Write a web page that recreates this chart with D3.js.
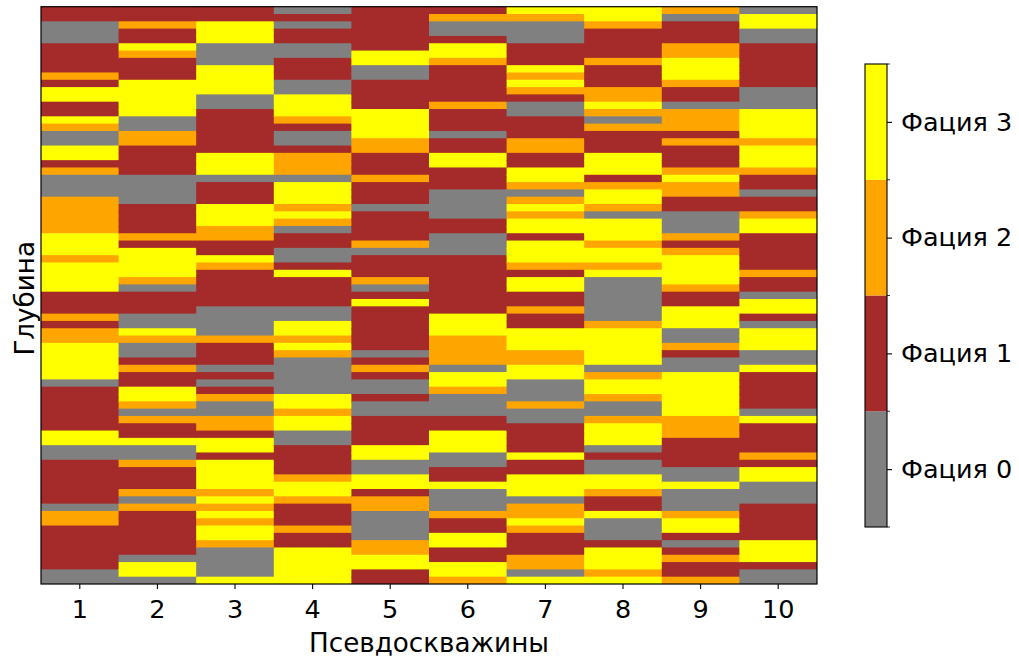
<!DOCTYPE html>
<html>
<head>
<meta charset="utf-8">
<script src="https://cdn.jsdelivr.net/npm/d3@7"></script>
<style>
  body { margin: 0; background: #fff; }
  text { font-family: "DejaVu Sans", sans-serif; fill: #000; }
</style>
</head>
<body>
<svg id="chart" width="1019" height="658"></svg>
<script>
// facies per pseudo-well, top to bottom (0 = gray, 1 = brown, 2 = orange, 3 = yellow)
var wells = ["1", "2", "3", "4", "5", "6", "7", "8", "9", "10"];
var faciesNames = ["Фация 0", "Фация 1", "Фация 2", "Фация 3"];
var faciesColors = ["#808080", "#a52a2a", "#ffa500", "#ffff00"];

var w1 = [1,1,0,0,0,1,1,1,1,2, 1,3,3,1,1,3,2,0,0,3, 3,1,2,0,0,0,2,2,2,2, 2,3,3,3,2,3,3,3,3,1, 1,1,2,1,2,2,3,3,3,3, 3,0,1,1,1,1,1,1,3,3, 0,0,1,1,1,1,1,1,0,2, 2,1,1,1,1,1,1,0,0];
var w2 = [1,1,2,1,1,3,2,1,1,1, 3,3,3,3,3,0,0,2,2,1, 1,1,1,0,0,0,0,1,1,1, 1,2,1,3,3,3,3,2,0,1, 1,1,0,0,3,2,0,0,1,2, 1,1,3,3,2,0,2,1,1,3, 0,0,2,1,1,1,2,0,2,1, 1,1,1,1,1,0,3,3,0];
var w3 = [1,1,3,3,3,0,0,0,3,3, 3,3,0,0,1,1,1,1,1,1, 3,3,3,0,1,1,1,3,3,3, 2,2,1,1,3,2,1,1,1,1, 1,0,0,0,0,2,1,1,1,0, 1,0,1,2,0,0,2,2,1,3, 3,1,3,3,3,3,2,3,2,3, 2,3,3,2,0,0,0,0,3];
var w4 = [0,1,0,1,1,0,0,1,1,1, 0,0,3,3,3,2,1,0,0,1, 2,2,2,0,3,3,3,2,3,2, 0,1,1,0,0,1,3,1,1,1, 1,0,0,3,3,2,3,2,0,0, 0,0,0,3,3,2,3,3,0,0, 1,1,1,1,2,3,3,2,1,1, 1,2,1,1,3,3,3,3,3];
var w5 = [1,1,1,1,1,1,3,3,0,0, 1,1,1,1,3,3,3,3,2,2, 1,1,1,2,1,1,1,0,1,1, 1,1,2,0,1,1,1,2,0,1, 3,1,1,1,1,1,1,0,1,2, 1,0,0,1,0,0,1,1,1,1, 3,3,0,0,3,3,1,2,2,0, 0,0,0,2,2,3,3,1,1];
var w6 = [1,2,0,0,1,3,3,2,1,1, 1,1,1,2,1,1,1,0,1,1, 3,3,1,1,1,0,0,0,0,1, 1,0,0,0,1,1,1,1,1,1, 1,1,3,3,3,2,2,2,2,0, 3,3,2,0,0,0,1,1,3,3, 3,0,0,1,1,3,0,0,0,2, 1,1,3,3,1,1,3,3,2];
var w7 = [3,2,0,0,0,1,1,1,3,2, 3,2,1,0,0,1,1,1,2,2, 1,1,3,3,2,0,2,3,2,3, 3,1,3,3,3,2,1,3,3,1, 1,2,1,1,3,3,3,2,2,3, 3,0,0,0,2,0,0,1,1,1, 1,3,1,1,3,3,3,0,2,2, 3,2,1,1,1,2,2,0,3];
var w8 = [3,3,2,1,1,1,1,2,1,1, 1,2,2,3,2,0,2,1,1,1, 3,3,3,1,2,3,3,2,0,3, 3,3,2,3,3,2,3,0,0,0, 0,0,0,2,3,3,3,3,3,0, 2,3,3,2,0,0,2,3,3,3, 0,1,0,0,3,3,2,1,1,3, 0,0,0,1,3,3,3,2,3];
var w9 = [2,0,1,1,1,2,2,3,3,3, 2,1,1,0,2,2,2,1,2,1, 1,1,2,3,2,2,1,1,0,0, 0,2,1,2,3,3,3,3,2,1, 1,3,3,3,0,0,2,1,0,0, 3,3,3,3,3,3,2,2,2,1, 1,1,1,0,0,3,0,0,0,2, 3,3,1,0,1,2,1,1,2];
var w10 = [0,3,3,0,0,1,1,1,1,1, 1,0,0,0,3,3,3,3,2,3, 3,3,2,1,1,0,1,1,2,3, 3,1,1,1,1,1,2,1,1,0, 3,3,1,0,3,3,3,0,0,3, 1,1,1,1,1,0,3,1,1,1, 1,2,1,3,3,0,0,0,1,1, 1,1,1,3,3,3,1,0,0];

var columns = [w1, w2, w3, w4, w5, w6, w7, w8, w9, w10];

var svg = d3.select("#chart"),
    margin = {top: 6.7, right: 202, bottom: 74, left: 41},
    width = +svg.attr("width") - margin.left - margin.right,
    height = +svg.attr("height") - margin.top - margin.bottom,
    g = svg.append("g").attr("transform", "translate(" + margin.left + "," + margin.top + ")");

var nRows = w1.length;

var x = d3.scaleBand().domain(wells).range([0, width]).padding(0),
    y = d3.scaleBand().domain(d3.range(nRows)).range([0, height]).padding(0),
    color = d3.scaleOrdinal().domain([0, 1, 2, 3]).range(faciesColors);

// flatten into cells
var cells = [];
columns.forEach(function(col, i) {
  col.forEach(function(v, r) {
    cells.push({well: wells[i], row: r, facies: v});
  });
});

// cells overlap the next one by 1px so no seams show
g.selectAll(".cell")
    .data(cells)
    .enter().append("rect")
    .attr("class", "cell")
    .attr("x", function(d) { return x(d.well); })
    .attr("y", function(d) { return y(d.row); })
    .attr("width", function(d) { return d.well === "10" ? x.bandwidth() : x.bandwidth() + 1; })
    .attr("height", function(d) { return d.row === nRows - 1 ? y.bandwidth() : y.bandwidth() + 1; })
    .attr("fill", function(d) { return color(d.facies); });

// frame
g.append("rect")
    .attr("width", width)
    .attr("height", height)
    .attr("fill", "none")
    .attr("stroke", "#000")
    .attr("stroke-width", 1.2);

var xAxis = g.append("g")
    .attr("transform", "translate(0," + height + ")")
    .call(d3.axisBottom(x).tickSize(5).tickPadding(11));
xAxis.select(".domain").remove();
xAxis.selectAll("line").attr("stroke", "#000").attr("stroke-width", 1.1);
xAxis.selectAll("text").attr("font-size", 25.5).attr("font-family", "DejaVu Sans");

svg.append("text")
    .attr("x", margin.left + width / 2)
    .attr("y", 652)
    .attr("text-anchor", "middle")
    .attr("font-size", 26.2)
    .text("Псевдоскважины");

svg.append("text")
    .attr("transform", "translate(34," + (margin.top + height / 2 + 3) + ") rotate(-90)")
    .attr("text-anchor", "middle")
    .attr("font-size", 26.2)
    .text("Глубина");

// colorbar
var cb = {x: 865, y: 64, w: 22, h: 463};
var cy = d3.scaleLinear().domain([0, 4]).range([cb.y + cb.h, cb.y]);
var cbar = svg.append("g");

cbar.selectAll(".seg")
    .data(faciesColors)
    .enter().append("rect")
    .attr("x", cb.x)
    .attr("y", function(d, i) { return cy(i + 1); })
    .attr("width", cb.w)
    .attr("height", function(d, i) { return cy(i) - cy(i + 1); })
    .attr("fill", function(d) { return d; });

cbar.append("rect")
    .attr("x", cb.x).attr("y", cb.y)
    .attr("width", cb.w).attr("height", cb.h)
    .attr("fill", "none").attr("stroke", "#000").attr("stroke-width", 1.1);

var cAxis = cbar.append("g")
    .attr("transform", "translate(" + (cb.x + cb.w) + ",0)")
    .call(d3.axisRight(cy).tickValues([0.5, 1.5, 2.5, 3.5])
      .tickFormat(function(d) { return faciesNames[Math.floor(d)]; })
      .tickSize(5).tickPadding(9));
cAxis.select(".domain").remove();
cAxis.selectAll("line").attr("stroke", "#000").attr("stroke-width", 1.1);
cAxis.selectAll("text").attr("font-size", 25.5).attr("font-family", "DejaVu Sans");

// small ticks at segment edges
cbar.selectAll(".edge")
    .data(d3.range(5))
    .enter().append("line")
    .attr("x1", cb.x + cb.w).attr("x2", cb.x + cb.w + 3)
    .attr("y1", function(d) { return cy(d); })
    .attr("y2", function(d) { return cy(d); })
    .attr("stroke", "#000").attr("stroke-width", 0.8);
</script>
</body>
</html>
